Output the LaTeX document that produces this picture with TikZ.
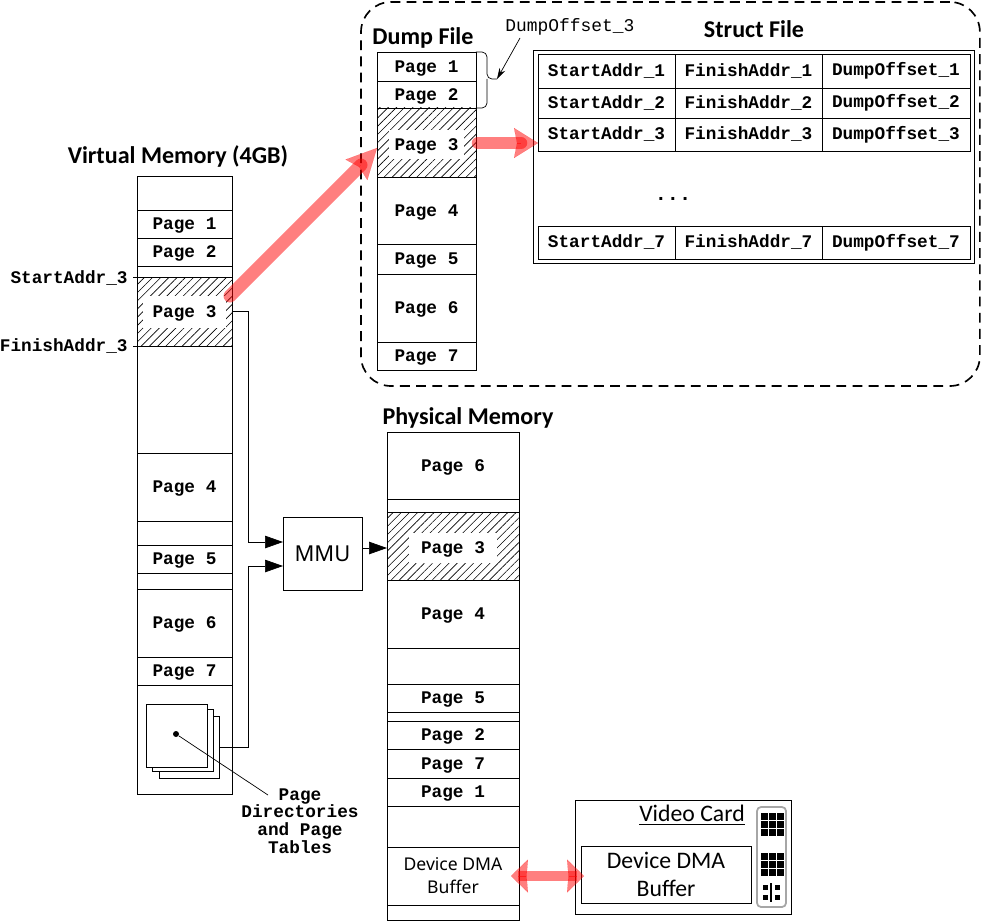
\documentclass[tikz,border=0pt]{standalone}
\usepackage{fontspec}
\usetikzlibrary{positioning, arrows.meta, patterns.meta}
\newfontfamily\pagefont{Liberation Mono}[BoldFont={Liberation Mono Bold}]
\newfontfamily\headfont{Carlito}
\newfontfamily\boxfont{Noto Sans}
\newcommand{\monobold}{\pagefont\bfseries\fontsize{10.1}{12}\selectfont}
\tikzset{
	x=0.02cm,
	y=-0.02cm,
	line width=.75pt,
	>={Triangle[length=.36cm,width=.25cm]},
	cell/.style={draw, inner sep=0pt, outer sep=0pt, minimum height=#1*0.02cm, font=\monobold},
	pagecell/.style={cell=#1, text height=9pt, text depth=2.5pt},
	hatched/.style={cell=#1, pattern={Lines[angle=45,distance=3.3pt,line width=.35pt]}},
	hatchtext/.style={fill=white, inner sep=0pt, text height=9pt, text depth=2.5pt, font=\monobold},
	addrlabel/.style={anchor=east, inner sep=0pt, font=\monobold},
	title/.style={inner sep=0pt, font=\headfont\bfseries\fontsize{13.7}{15}\selectfont},
	pinkshaft/.style={draw=red, opacity=.5, line width=#1, line cap=round},
	pinkhead/.style n args={3}{draw=red, opacity=.5, line width=.05pt,
		-{Stealth[length=#1,width=#2,inset=#3]}},
}

\begin{document}
\begin{tikzpicture}
	\useasboundingbox (0,0) rectangle (982,922);

	% dump and struct side
	\node[cell=384, line width=.95pt, rounded corners=.6cm, dash pattern=on 5.6pt off 3.6pt, minimum width=12.38cm, anchor=north west] (dumpbox) at (361,2) {};
	\node[title] (dumptitle) at (423,38) {Dump File};
	\node[title] (structtitle) at (754,29) {Struct File};
	\begin{scope}[minimum width=1.98cm]
		\node[pagecell=29, anchor=north west] (dpage1) at (377,52) {Page 1};
		\node[pagecell=27, below=0pt of dpage1] (dpage2) {Page 2};
		\node[hatched=69, below=0pt of dpage2] (dpage3) {};
		\node[pagecell=67, below=0pt of dpage3] (dpage4) {Page 4};
		\node[pagecell=30, below=0pt of dpage4] (dpage5) {Page 5};
		\node[pagecell=68, below=0pt of dpage5] (dpage6) {Page 6};
		\node[pagecell=28, below=0pt of dpage6] (dpage7) {Page 7};
	\end{scope}
	\node[hatchtext, minimum width=1.5cm, minimum height=.6cm, yshift=-.04cm] (dlabel3) at (dpage3) {Page 3};

	\node[cell=213, minimum width=8.82cm, anchor=north west] (structbox) at (533,50) {};
	\foreach \i/\y/\h in {1/54/34, 2/88/30, 3/118/33, 7/226/33} {
		\node[cell=\h, minimum width=2.74cm, anchor=north west] (sa\i) at (538,\y) {StartAddr\_\i};
		\node[cell=\h, minimum width=2.94cm, right=0pt of sa\i] (fa\i) {FinishAddr\_\i};
		\node[cell=\h, minimum width=2.96cm, right=0pt of fa\i] (do\i) {DumpOffset\_\i};
	}
	\node[inner sep=0pt, font=\pagefont\bfseries\fontsize{11.5}{14}\selectfont] (sdots) at (673,199) {...};

	% brace and its offset label
	\node[inner sep=0pt, anchor=west, font=\pagefont\fontsize{10.2}{12}\selectfont] (doff) at (505,27) {DumpOffset\_3};
	\coordinate (bracetip) at (497,79);
	\coordinate (doffend) at (520,38);
	\draw[rounded corners=.1cm] (dpage1.north east) -- (487,52) -- (487,79) -- (bracetip);
	\draw[rounded corners=.1cm] (487,79) -- (487,108) -- (dpage2.south east);
	\draw[line width=.4pt, -{Stealth[length=.22cm,width=.13cm]}] (doffend) -- (bracetip);

	% virtual memory
	\node[title] (vtitle) at (178,156) {Virtual Memory (4GB)};
	\begin{scope}[minimum width=1.9cm]
		\node[cell=34, anchor=north west] (vtop) at (137,176) {};
		\node[pagecell=28, below=0pt of vtop] (vpage1) {Page 1};
		\node[pagecell=28, below=0pt of vpage1] (vpage2) {Page 2};
		\node[cell=11, below=0pt of vpage2] (vgap1) {};
		\node[hatched=69, below=0pt of vgap1] (vpage3) {};
		\node[cell=107, below=0pt of vpage3] (vgap2) {};
		\node[pagecell=68, below=0pt of vgap2] (vpage4) {Page 4};
		\node[cell=24, below=0pt of vpage4] (vgap3) {};
		\node[pagecell=28, below=0pt of vgap3] (vpage5) {Page 5};
		\node[cell=16, below=0pt of vpage5] (vgap4) {};
		\node[pagecell=68, below=0pt of vgap4] (vpage6) {Page 6};
		\node[pagecell=28, below=0pt of vpage6] (vpage7) {Page 7};
		\node[cell=109, below=0pt of vpage7] (vrest) {};
	\end{scope}
	\node[hatchtext, minimum width=1.66cm, minimum height=.64cm] (vlabel3) at (vpage3) {Page 3};
	\node[addrlabel] (startlab) at (128,278) {StartAddr\_3};
	\node[addrlabel] (finishlab) at (128,346) {FinishAddr\_3};
	\draw (vpage3.north west) -- ++(-4,0);
	\draw (vpage3.south west) -- ++(-4,0);

	% page tables
	\node[cell=62, fill=white, minimum width=1.21cm, anchor=north west] (ptable3) at (159,716) {};
	\node[cell=62, fill=white, minimum width=1.22cm, anchor=north west] (ptable2) at (152,709) {};
	\node[cell=63, fill=white, minimum width=1.22cm, anchor=north west] (ptable1) at (146,704) {};
	\node[circle, fill, inner sep=0pt, minimum size=.12cm] (ptdot) at (176,734) {};
	\node[inner sep=0pt, align=center, anchor=north, font=\pagefont\bfseries\fontsize{10.1}{10.2}\selectfont] (ptlabel) at (300,788) {Page\\Directories\\and Page\\Tables};
	\coordinate (ptend) at (268,795);
	\draw[line width=.4pt] (ptdot) -- (ptend);

	% mmu
	\node[cell=73, minimum width=1.58cm, anchor=north west, font=\boxfont\fontsize{12.5}{15}\selectfont] (mmu) at (283,517) {MMU};
	\coordinate (mmuin1) at (283,542);
	\coordinate (mmuin2) at (283,566);
	\coordinate (mmuout) at (362,548);
	\coordinate (physin) at (387,548);
	\draw[->] (vpage3.east) -- ++(16,0) |- (mmuin1);
	\draw[->] (ptable3.east) -- ++(29,0) |- (mmuin2);
	\draw[->] (mmuout) -- (physin);

	% physical memory
	\node[title] (ptitle) at (468,418) {Physical Memory};
	\begin{scope}[minimum width=2.64cm]
		\node[pagecell=67, anchor=north west] (ppage6) at (387,432) {Page 6};
		\node[cell=13, below=0pt of ppage6] (pgap1) {};
		\node[hatched=68, below=0pt of pgap1] (ppage3) {};
		\node[pagecell=68, below=0pt of ppage3] (ppage4) {Page 4};
		\node[cell=36, below=0pt of ppage4] (pgap2) {};
		\node[pagecell=28, below=0pt of pgap2] (ppage5) {Page 5};
		\node[cell=9, below=0pt of ppage5] (pgap3) {};
		\node[pagecell=28, below=0pt of pgap3] (ppage2) {Page 2};
		\node[pagecell=29, below=0pt of ppage2] (ppage7) {Page 7};
		\node[pagecell=28, below=0pt of ppage7] (ppage1) {Page 1};
		\node[cell=41, below=0pt of ppage1] (pgap4) {};
		\node[cell=58, align=center, below=0pt of pgap4, font=\boxfont\fontsize{10}{13}\selectfont] (pdma) {Device DMA\\Buffer};
		\node[cell=15, below=0pt of pdma] (pgap5) {};
	\end{scope}
	\node[hatchtext, minimum width=1.78cm, minimum height=.6cm, yshift=-.03cm] (plabel3) at (ppage3) {Page 3};

	% video card
	\node[cell=114, minimum width=4.32cm, anchor=north west] (vcard) at (575,800) {};
	\node[inner sep=0pt, font=\headfont\fontsize{13.5}{16}\selectfont] (vcardtitle) at (692,815) {\underline{Video Card}};
	\node[cell=57, minimum width=3.4cm, align=center, anchor=north west, font=\headfont\fontsize{13.5}{16}\selectfont] (vdma) at (581,846) {Device DMA\\Buffer};

	% connector on the card
	\draw[gray!70, line width=1pt, rounded corners=.08cm] (757,807) rectangle (786,907);
	\foreach \cx in {761,769,777}
		\foreach \cy in {813,821,829,853,861,869}
			\fill (\cx,\cy) rectangle ++(6.5,6.5);
	\foreach \cx in {763,775}
		\foreach \cy in {885,895}
			\fill (\cx,\cy) rectangle ++(5,5);
	\fill (770,883) rectangle (772,902);

	% red arrows
	\coordinate (vout) at (230,296);
	\coordinate (vhead) at (361,165);
	\coordinate (dumpin) at (377,148);
	\coordinate (dout) at (478,143);
	\coordinate (dhead) at (521,143);
	\coordinate (structin) at (538,143);
	\coordinate (dmaleft) at (511,876);
	\coordinate (dmaleft2) at (518,876);
	\coordinate (dmaright2) at (577,876);
	\coordinate (dmaright) at (584,876);
	\draw[pinkshaft=.26cm] (vout) -- (vhead);
	\draw[pinkhead={.6cm}{.6cm}{.08cm}] (vhead) -- (dumpin);
	\draw[pinkshaft=.25cm] (dout) -- (dhead);
	\draw[pinkhead={.48cm}{.6cm}{.06cm}] (dhead) -- (structin);
	\draw[pinkshaft=.2cm, line cap=butt] (dmaleft2) -- (dmaright2);
	\draw[pinkhead={.34cm}{.66cm}{.03cm}] (dmaleft2) -- (dmaleft);
	\draw[pinkhead={.34cm}{.66cm}{.03cm}] (dmaright2) -- (dmaright);
\end{tikzpicture}
\end{document}
